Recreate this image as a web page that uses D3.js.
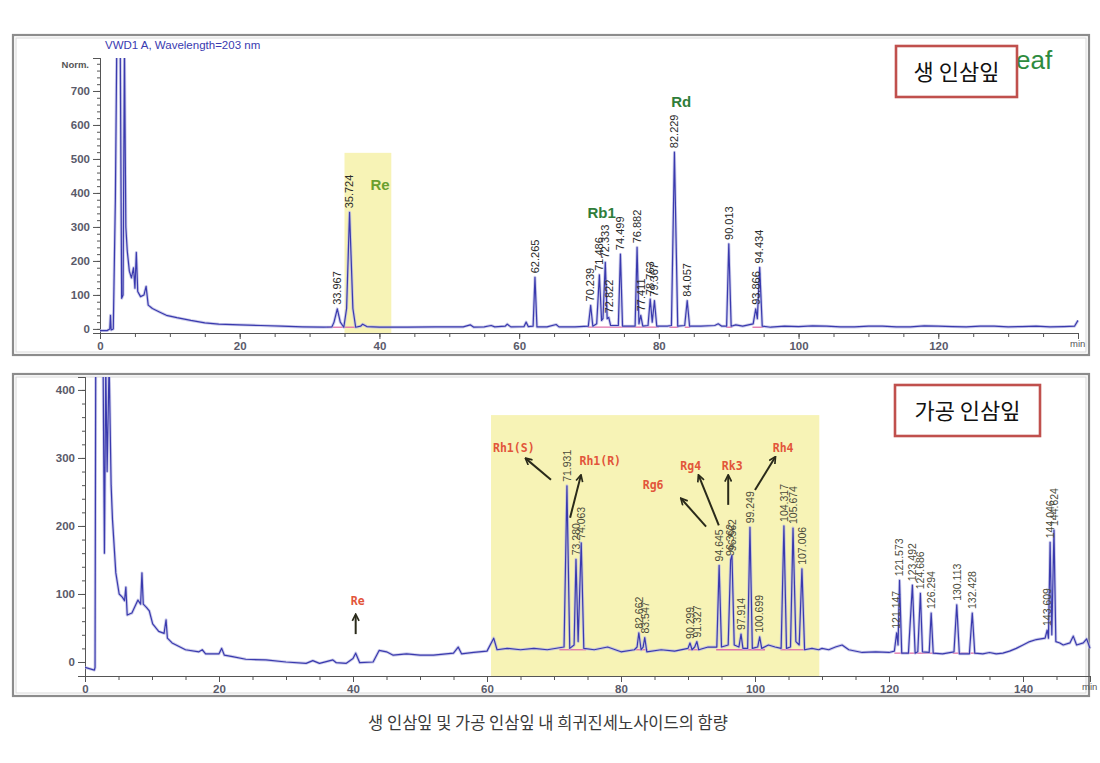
<!DOCTYPE html>
<html><head><meta charset="utf-8">
<script src="https://cdn.jsdelivr.net/npm/d3@7"></script>
<style>
body{margin:0;background:#fff;}
svg{display:block;}
</style></head>
<body>
<svg id="c" width="1100" height="763"></svg>
<script>
// ---------- DATA ----------
// Top chromatogram (생 인삼잎): [time(min), signal]
const topTrace = [
[0,-5],[1.0,-5],[1.4,0],[1.5,40],[1.6,-3],[1.9,0],[2.2,380],[2.4,830],[2.9,830],[3.1,90],[3.3,100],[3.5,830],
[3.7,300],[3.9,230],[4.2,170],[4.5,150],[4.8,180],[5.0,120],[5.2,225],[5.4,110],[5.8,95],[6.3,100],[6.6,125],
[6.9,70],[7.5,60],[8.5,50],[9.5,40],[11,33],[13,25],[15,18],[17,14],[20,12],[23,10],[26,8],[29,6],[32,5],
[33.2,6],[33.5,20],[33.967,59],[34.4,20],[34.9,5],[35.3,60],[35.724,343],[36.2,60],[36.6,5],[37.3,8],[37.6,14],
[38.2,7],[40,5],[44,5],[48,6],[52,6],[53,12],[53.5,5],[55,6],[56,10],[56.5,6],[58,8],[58.3,14],[58.8,6],
[60.7,7],[61,20],[61.3,7],[62.0,8],[62.265,152],[62.55,6],[64,6],[65.3,13],[65.7,6],[68,6],[69.9,8],
[70.239,69],[70.55,8],[71.1,15],[71.486,159],[71.8,25],[72.0,30],[72.333,196],[72.6,30],[72.822,34],[73.1,10],
[74.2,10],[74.499,220],[74.8,8],[76.0,8],[76.6,8],[76.882,240],[77.15,15],[77.411,40],[77.7,8],[78.45,10],
[78.763,88],[79.05,20],[79.367,83],[79.7,8],[81.2,8],[81.8,10],[82.229,520],[82.7,8],[83.7,10],[84.057,83],
[84.4,8],[86,8],[88,10],[88.5,15],[89,8],[89.7,8],[90.013,250],[90.35,8],[91,12],[92,8],[93.5,15],
[93.866,59],[94.1,30],[94.434,181],[94.8,8],[96,5],[98,8],[100,7],[102,9],[104,8],[106,6],[108,6],[110,8],
[112,8],[114,6],[116,6],[118,9],[120,8],[122,7],[124,6],[126,8],[128,8],[130,6],[132,7],[134,8],[136,6],
[138,7],[139.5,8],[140,25]
];
const topPeakTimes   = [33.967,35.724,62.265,70.239,71.486,72.333,72.822,74.499,76.882,77.411,78.763,79.367,82.229,84.057,90.013,93.866,94.434];
const topPeakHeights = [59,343,152,69,159,196,34,220,240,40,88,83,520,83,250,59,181];
const topPeakLabels  = ["33.967","35.724","62.265","70.239","71.486","72.333","72.822","74.499","76.882","77.411","78.763","79.367","82.229","84.057","90.013","93.866","94.434"];
const topIntegration = [[32.5,36.6],[69.8,80.0],[81.5,82.8],[83.7,84.5],[89.6,90.5],[93.4,95.0]];
const topHighlight = [35.0, 41.7, -12, 518];
const topNames = ["Re","Rb1","Rd"];
const topNamePos = [[40.1,409],[71.8,326],[83.2,653]];
const topXTicks = [0,20,40,60,80,100,120];
const topYTicks = [0,100,200,300,400,500,600,700];

// Bottom chromatogram (가공 인삼잎)
const botTrace = [
[0,-8],[1.4,-12],[1.5,-8],[1.6,440],[2.7,440],[2.9,160],[3.1,440],[3.3,280],[3.6,440],[3.9,260],[4.1,210],
[4.6,131],[5.1,100],[5.6,95],[5.9,90],[6.1,110],[6.3,69],[7.0,72],[7.9,91],[8.3,85],[8.5,131],[8.7,85],
[9.2,80],[9.6,75],[10.1,56],[11,45],[11.8,42],[12.1,62],[12.3,35],[13,28],[15,18],[17,15],[17.5,18],[18,12],
[20,12],[20.4,20],[20.8,10],[22,8],[24,4],[27,3],[30,0],[33,-2],[34,2],[35,-2],[37,3],[37.5,-1],[39,-2],
[40,5],[40.4,13],[41,-1],[43,0],[43.9,17],[45,15],[46,10],[48,12],[50,10],[52,10],[55,13],[55.7,22],
[56.2,12],[58,14],[60,16],[61,35],[61.5,18],[63,20],[65,18],[67,20],[69,18],[71.5,22],[71.931,259],
[72.35,20],[73.0,25],[73.28,151],[73.6,30],[74.063,175],[74.45,20],[76,18],[78,22],[80,15],[82,18],
[82.4,22],[82.662,43],[83.0,18],[83.3,22],[83.547,36],[83.85,15],[86,18],[88,16],[90,20],[90.299,28],
[90.6,18],[91.0,22],[91.327,30],[91.6,18],[93,22],[94.3,22],[94.645,142],[95.0,22],[96.0,25],[96.362,150],
[96.562,157],[96.9,25],[97.6,22],[97.914,41],[98.2,20],[98.9,20],[99.249,198],[99.6,20],[100.4,22],
[100.699,37],[101,20],[102,25],[103,22],[103.9,20],[104.317,200],[104.7,20],[105.3,22],[105.674,197],
[106.1,30],[106.6,25],[107.006,137],[107.4,18],[108.5,20],[109.5,18],[110,20],[111,18],[112,22],[113,25],
[114,18],[116,14],[118,15],[120,14],[120.8,16],[121.147,43],[121.35,25],[121.573,120],[121.9,13],[122.9,13],
[123.492,113],[123.9,13],[124.3,15],[124.686,101],[125.0,15],[126.0,14],[126.294,72],[126.6,13],[128,12],
[129.7,15],[130.113,84],[130.5,12],[132.0,12],[132.428,72],[132.8,13],[134,12],[135,14],[136,12],[137,13],
[138,16],[139,20],[140,25],[141,30],[142,33],[143.3,35],[143.609,47],[143.8,35],[144.046,176],[144.3,40],
[144.624,194],[144.9,30],[145.5,28],[146,25],[147,28],[147.5,38],[148,25],[149,28],[149.5,34],[150,20]
];
const botPeakTimes   = [71.931,73.28,74.063,82.662,83.547,90.299,91.327,94.645,96.362,96.562,97.914,99.249,100.699,104.317,105.674,107.006,121.147,121.573,123.492,124.686,126.294,130.113,132.428,143.609,144.046,144.624];
const botPeakHeights = [259,151,175,43,36,28,30,142,150,157,41,198,37,200,197,137,43,120,113,101,72,84,72,47,176,194];
const botPeakLabels  = ["71.931","73.280","74.063","82.662","83.547","90.299","91.327","94.645","96.362","96.562","97.914","99.249","100.699","104.317","105.674","107.006","121.147","121.573","123.492","124.686","126.294","130.113","132.428","143.609","144.046","144.624"];
const botIntegration = [[70.8,74.8],[82.2,84.0],[90.0,91.8],[94.2,101.5],[103.8,107.6],[120.8,122.2],[122.5,127.0],[129.5,133.0]];
const botHighlight = [60.6, 109.6, -20.6, 363];
const botNames = ["Rh1(S)","Rh1(R)","Rg6","Rg4","Rk3","Rh4","Re"];
const botNamePos = [[64.0,309],[76.9,290],[84.8,254],[90.4,282],[96.6,282],[104.2,309],[40.7,84]];
const botArrows = [[[69.55,268],[65.8,299]],[[72.4,212],[74.0,274]],[[92.7,199],[89.0,240]],[[94.6,201],[91.6,274]],[[96.0,231],[96.0,274]],[[100.0,253],[103.0,301]],[[40.4,41],[40.4,69]]];
const botXTicks = [0,20,40,60,80,100,120,140];
const botYTicks = [0,100,200,300,400];

const caption = "생 인삼잎 및 가공 인삼잎 내 희귀진세노사이드의 함량";

// ---------- DRAW ----------
const svg = d3.select("#c");
const LINE = "#3a3aae";
const HL = "#f7f3b6";
const tickFont = "Liberation Sans, Arial, sans-serif";
const kr = "'Noto Sans CJK KR', sans-serif";

const defs = svg.append("defs");
defs.append("marker").attr("id","ah").attr("viewBox","0 0 10 10").attr("refX",8).attr("refY",5)
  .attr("markerWidth",4.2).attr("markerHeight",4.2).attr("orient","auto")
  .append("path").attr("d","M1,1 L9,5 L1,9").attr("fill","none").attr("stroke","#2a2a1a").attr("stroke-width",2);

function frame(x,y,w,h){
  svg.append("rect").attr("x",x).attr("y",y).attr("width",w).attr("height",h)
    .attr("fill","#fff").attr("stroke","#8c8c8c").attr("stroke-width",2.2);
  svg.append("rect").attr("x",x+3).attr("y",y+3).attr("width",w-6).attr("height",h-6)
    .attr("fill","none").attr("stroke","#d8d8d8").attr("stroke-width",1);
}

function panel(cfg){
  const {x,y,id} = cfg;
  const g = svg.append("g");
  defs.append("clipPath").attr("id",id).append("rect")
    .attr("x",x.range()[0]).attr("y",y.range()[1]).attr("width",x.range()[1]-x.range()[0]+2)
    .attr("height",y.range()[0]-y.range()[1]);
  const h = cfg.highlight;
  g.append("rect").attr("x",x(h[0])).attr("y",y(h[3])).attr("width",x(h[1])-x(h[0]))
    .attr("height",y(h[2])-y(h[3])).attr("fill",HL);
  const minorX = d3.range(0, x.domain()[1]+0.01, 5);
  g.append("g").attr("transform",`translate(0,${y.range()[0]})`)
    .call(d3.axisBottom(x).tickValues(minorX).tickSize(4).tickFormat(""))
    .call(a=>a.selectAll("line,path").attr("stroke","#555"));
  const xa = g.append("g").attr("transform",`translate(0,${y.range()[0]})`)
    .call(d3.axisBottom(x).tickValues(cfg.xTicks).tickSize(6).tickPadding(3).tickFormat(d3.format("d")));
  xa.selectAll("line,path").attr("stroke","#555");
  xa.selectAll("text").attr("font-family",tickFont).attr("font-size",11.5).attr("font-weight","bold").attr("fill","#5a5a6a");
  const minorY = d3.range(0, y.domain()[1], 20);
  g.append("g").attr("transform",`translate(${x.range()[0]},0)`)
    .call(d3.axisLeft(y).tickValues(minorY).tickSize(3).tickFormat(""))
    .call(a=>a.selectAll("line,path").attr("stroke","#555"));
  const ya = g.append("g").attr("transform",`translate(${x.range()[0]},0)`)
    .call(d3.axisLeft(y).tickValues(cfg.yTicks).tickSize(7).tickPadding(3).tickFormat(d3.format("d")));
  ya.selectAll("line,path").attr("stroke","#555");
  ya.selectAll("text").attr("font-family",tickFont).attr("font-size",11.5).attr("font-weight","bold").attr("fill","#5a5a6a");
  g.append("text").attr("x",x.range()[1]-8).attr("y",y.range()[0]+14).text("min")
    .attr("font-family",tickFont).attr("font-size",9.5).attr("fill","#555");
  const pg = g.append("g").attr("clip-path",`url(#${id})`);
  cfg.integ.forEach(s=>{
    const yv = cfg.integY;
    pg.append("line").attr("x1",x(s[0])).attr("x2",x(s[1])).attr("y1",y(yv(s[0]))).attr("y2",y(yv(s[1])))
      .attr("stroke","#e070a8").attr("stroke-width",1.3);
  });
  const line = d3.line().x(d=>x(d[0])).y(d=>y(d[1]));
  pg.append("path").datum(cfg.trace).attr("d",line).attr("fill","none")
    .attr("stroke","#b8b8e2").attr("stroke-width",3).attr("stroke-linejoin","round").attr("opacity",0.7);
  pg.append("path").datum(cfg.trace).attr("d",line).attr("fill","none")
    .attr("stroke",LINE).attr("stroke-width",1.2).attr("stroke-linejoin","round");
  cfg.times.forEach((t,i)=>{
    const px = x(t)+3.8, py = y(cfg.heights[i])-4;
    g.append("text").attr("transform",`translate(${px},${py}) rotate(-90)`)
      .text(cfg.labels[i]).attr("font-family",tickFont).attr("font-size",cfg.lblSize)
      .attr("fill",cfg.lblColor);
  });
  return g;
}

// ---- top panel ----
frame(13,35,1076,320);
const xTop = d3.scaleLinear().domain([0,140]).range([100,1078]);
const yTop = d3.scaleLinear().domain([-12,797]).range([333,58]);
svg.append("text").attr("x",105).attr("y",49).text("VWD1 A, Wavelength=203 nm")
  .attr("font-family",tickFont).attr("font-size",11.5).attr("fill","#3a3ab0");
svg.append("text").attr("x",89).attr("y",68).attr("text-anchor","end").text("Norm.")
  .attr("font-family",tickFont).attr("font-size",9.5).attr("font-weight","bold").attr("fill","#555");
panel({x:xTop,y:yTop,id:"clipTop",highlight:topHighlight,xTicks:topXTicks,yTicks:topYTicks,
  trace:topTrace,times:topPeakTimes,heights:topPeakHeights,labels:topPeakLabels,
  integ:topIntegration,integY:()=>5,lblSize:11,lblColor:"#2a2a2a"});
const topNameColors = ["#6a9f2e","#2f7d3a","#2f7d3a"];
topNames.forEach((n,i)=>{
  svg.append("text").attr("x",xTop(topNamePos[i][0])).attr("y",yTop(topNamePos[i][1]))
    .attr("text-anchor","middle").text(n).attr("font-family",tickFont).attr("font-weight","bold")
    .attr("font-size",15).attr("fill",topNameColors[i]);
});
svg.append("text").attr("x",1016).attr("y",69).text("eaf")
  .attr("font-family",tickFont).attr("font-size",26).attr("fill","#2e8b3e");
svg.append("rect").attr("x",896).attr("y",46).attr("width",121).attr("height",51)
  .attr("fill","#fff").attr("stroke","#c0504d").attr("stroke-width",2.6);
svg.append("text").attr("x",956.5).attr("y",80).attr("text-anchor","middle").text("생 인삼잎")
  .attr("font-family",kr).attr("font-size",22).attr("fill","#111");

// ---- bottom panel ----
frame(13,374,1076,322);
const xBot = d3.scaleLinear().domain([0,150]).range([85,1090]);
const yBot = d3.scaleLinear().domain([-20.6,419]).range([676,377]);
panel({x:xBot,y:yBot,id:"clipBot",highlight:botHighlight,xTicks:botXTicks,yTicks:botYTicks,
  trace:botTrace,times:botPeakTimes,heights:botPeakHeights,labels:botPeakLabels,
  integ:botIntegration,integY:t=>(t>110?13:18),lblSize:10.5,lblColor:"#4a4a3a"});
botArrows.forEach(a=>{
  svg.append("line").attr("x1",xBot(a[0][0])).attr("y1",yBot(a[0][1]))
    .attr("x2",xBot(a[1][0])).attr("y2",yBot(a[1][1]))
    .attr("stroke","#2a2a1a").attr("stroke-width",2).attr("marker-end","url(#ah)");
});
botNames.forEach((n,i)=>{
  svg.append("text").attr("x",xBot(botNamePos[i][0])).attr("y",yBot(botNamePos[i][1]))
    .attr("text-anchor","middle").text(n).attr("font-family","DejaVu Sans Mono, monospace").attr("font-weight","bold")
    .attr("font-size",11.5).attr("fill","#e2553a");
});
svg.append("rect").attr("x",895).attr("y",385).attr("width",145).attr("height",51)
  .attr("fill","#fff").attr("stroke","#c0504d").attr("stroke-width",2.6);
svg.append("text").attr("x",967.5).attr("y",419).attr("text-anchor","middle").text("가공 인삼잎")
  .attr("font-family",kr).attr("font-size",22).attr("fill","#111");

// caption
svg.append("text").attr("x",548).attr("y",729).attr("text-anchor","middle").text(caption)
  .attr("font-family",kr).attr("font-size",16.5).attr("fill","#3a3a3a");
</script>
</body></html>
